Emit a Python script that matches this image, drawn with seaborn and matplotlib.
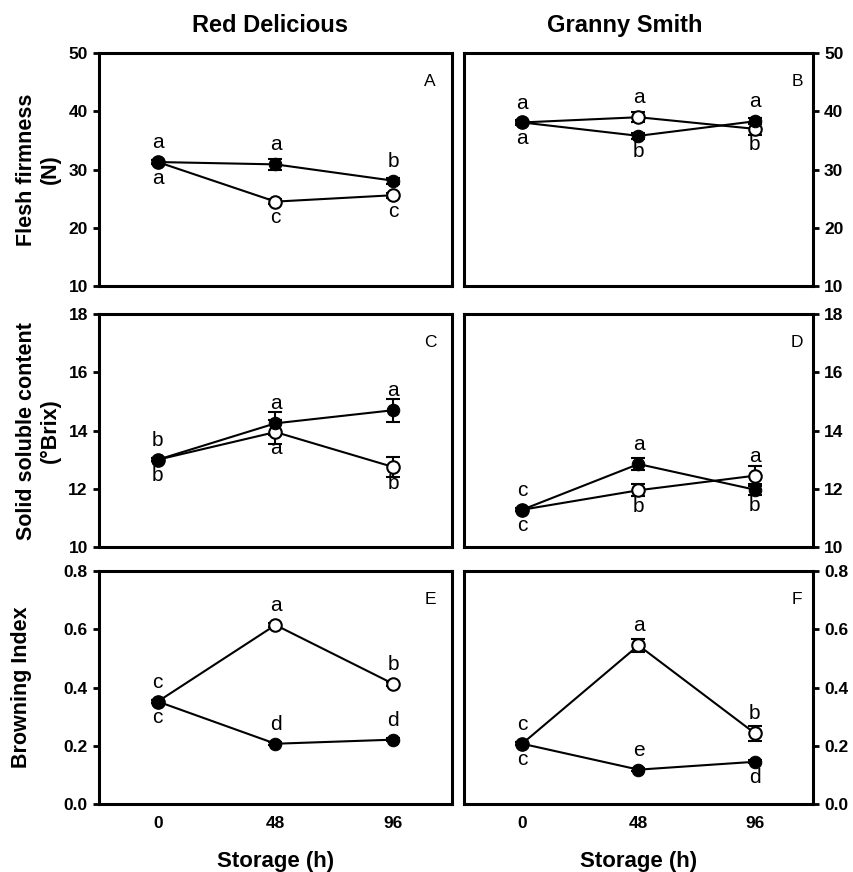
import matplotlib
matplotlib.use('Agg')
import seaborn as sns
from matplotlib import pyplot as plt
from matplotlib.ticker import FormatStrFormatter

hours = [0, 48, 96]

# Flesh firmness (N)
firm_rd_filled = [31.3, 30.9, 28.1]
firm_rd_filled_err = [0.4, 1.0, 0.5]
firm_rd_open = [31.3, 24.5, 25.6]
firm_rd_open_err = [0.3, 0.4, 0.4]
firm_gs_filled = [38.1, 35.8, 38.3]
firm_gs_filled_err = [0.5, 0.5, 0.5]
firm_gs_open = [38.1, 39.0, 37.0]
firm_gs_open_err = [0.3, 0.9, 1.0]

# Solid soluble content (°Brix)
ssc_rd_filled = [13.0, 14.25, 14.7]
ssc_rd_filled_err = [0.05, 0.4, 0.4]
ssc_rd_open = [13.0, 13.95, 12.75]
ssc_rd_open_err = [0.05, 0.4, 0.35]
ssc_gs_filled = [11.28, 12.85, 11.97]
ssc_gs_filled_err = [0.05, 0.2, 0.2]
ssc_gs_open = [11.28, 11.95, 12.45]
ssc_gs_open_err = [0.05, 0.2, 0.35]

# Browning index
bi_rd_filled = [0.352, 0.207, 0.221]
bi_rd_filled_err = [0.005, 0.005, 0.005]
bi_rd_open = [0.352, 0.615, 0.413]
bi_rd_open_err = [0.005, 0.006, 0.006]
bi_gs_filled = [0.207, 0.118, 0.145]
bi_gs_filled_err = [0.005, 0.005, 0.005]
bi_gs_open = [0.207, 0.545, 0.243]
bi_gs_open_err = [0.005, 0.022, 0.025]

# letters (u = above point, d = below point)
let_A = (['a', 'a', 'b'], 'uuu', ['a', 'c', 'c'], 'ddd')
let_B = (['a', 'b', 'a'], 'udu', ['a', 'a', 'b'], 'dud')
let_C = (['b', 'a', 'a'], 'uuu', ['b', 'a', 'b'], 'ddd')
let_D = (['c', 'a', 'b'], 'uud', ['c', 'b', 'a'], 'ddu')
let_E = (['c', 'd', 'd'], 'duu', ['c', 'a', 'b'], 'uuu')
let_F = (['c', 'e', 'd'], 'dud', ['c', 'a', 'b'], 'uuu')

col_titles = ['Red Delicious', 'Granny Smith']
panel_tags = ['A', 'B', 'C', 'D', 'E', 'F']

sns.set_theme(style='ticks')
plt.rcParams['font.family'] = ['Liberation Sans', 'DejaVu Sans']
plt.rcParams['font.weight'] = 'bold'
plt.rcParams['axes.linewidth'] = 2.2
plt.rcParams['text.color'] = 'black'
plt.rcParams['axes.labelcolor'] = 'black'
plt.rcParams['xtick.color'] = 'black'
plt.rcParams['ytick.color'] = 'black'

fig = plt.figure(figsize=(8.54, 8.72), dpi=100)

lefts = [0.1159, 0.5433]
widths = [0.4133, 0.4087]
bottoms = [0.672, 0.3727, 0.078]
height = 0.267

panels = [
    (firm_rd_filled, firm_rd_filled_err, firm_rd_open, firm_rd_open_err, let_A),
    (firm_gs_filled, firm_gs_filled_err, firm_gs_open, firm_gs_open_err, let_B),
    (ssc_rd_filled, ssc_rd_filled_err, ssc_rd_open, ssc_rd_open_err, let_C),
    (ssc_gs_filled, ssc_gs_filled_err, ssc_gs_open, ssc_gs_open_err, let_D),
    (bi_rd_filled, bi_rd_filled_err, bi_rd_open, bi_rd_open_err, let_E),
    (bi_gs_filled, bi_gs_filled_err, bi_gs_open, bi_gs_open_err, let_F),
]
ylims = [(10, 50), (10, 18), (0, 0.8)]
yticks = [[10, 20, 30, 40, 50], [10, 12, 14, 16, 18], [0, 0.2, 0.4, 0.6, 0.8]]
ylabels = ['Flesh firmness\n(N)', 'Solid soluble content\n(°Brix)', 'Browning Index']
ylab_x = [-0.108, -0.108, -0.19]


def put_letters(ax, vals, letters, where):
    for x, y, t, w in zip(hours, vals, letters, where):
        off = 10 if w == 'u' else -15.5
        ax.annotate(t, (x, y), xytext=(0, off), textcoords='offset points',
                    ha='center', va='baseline', fontsize=15, color='black',
                    fontweight='normal')


for i, (f, fe, o, oe, lets) in enumerate(panels):
    row, col = divmod(i, 2)
    ax = fig.add_axes([lefts[col], bottoms[row], widths[col], height])

    ax.errorbar(hours, o, yerr=oe, fmt='none', ecolor='black', elinewidth=1.5,
                capsize=4.7, capthick=1.5, zorder=2)
    ax.errorbar(hours, f, yerr=fe, fmt='none', ecolor='black', elinewidth=1.5,
                capsize=4.7, capthick=1.5, zorder=2)
    sns.lineplot(x=hours, y=o, ax=ax, color='black', lw=1.5, marker='o',
                 markersize=9, markerfacecolor='white', markeredgecolor='black',
                 markeredgewidth=1.5, zorder=3)
    sns.lineplot(x=hours, y=f, ax=ax, color='black', lw=1.5, marker='o',
                 markersize=9, markerfacecolor='black', markeredgecolor='black',
                 zorder=4)

    put_letters(ax, f, lets[0], lets[1])
    put_letters(ax, o, lets[2], lets[3])

    ax.set_xlim(-24, 120)
    ax.set_ylim(*ylims[row])
    ax.set_yticks(yticks[row])
    if row == 2:
        ax.yaxis.set_major_formatter(FormatStrFormatter('%.1f'))
    for s in ax.spines.values():
        s.set_visible(True)
        s.set_linewidth(2.2)
        s.set_color('black')
    ax.tick_params(axis='y', direction='out', length=4.5, width=2, labelsize=12.5,
                   colors='black')
    ax.tick_params(axis='x', length=0, pad=9, labelsize=12.5, colors='black')

    if col == 1:
        ax.yaxis.tick_right()
        ax.set_ylabel('')
    else:
        ax.set_ylabel(ylabels[row], fontsize=15.5, fontweight='bold', color='black')
        ax.yaxis.set_label_coords(ylab_x[row], 0.5)

    if row == 2:
        ax.set_xticks(hours)
        ax.set_xticklabels([str(h) for h in hours])
        ax.set_xlabel('Storage (h)', fontsize=16, fontweight='bold', labelpad=14,
                      color='black')
    else:
        ax.set_xticks([])
        ax.set_xlabel('')

    tag_x = 0.938 if col == 0 else 0.954
    ax.text(tag_x, 0.88, panel_tags[i], transform=ax.transAxes, ha='center',
            va='center', fontsize=12.5, fontweight='normal', color='black')
    ax.grid(False)

fig.text(0.316, 0.971, col_titles[0], ha='center', va='center', fontsize=17,
         fontweight='bold', color='black')
fig.text(0.732, 0.971, col_titles[1], ha='center', va='center', fontsize=17,
         fontweight='bold', color='black')

plt.savefig('out.png', dpi=100)
